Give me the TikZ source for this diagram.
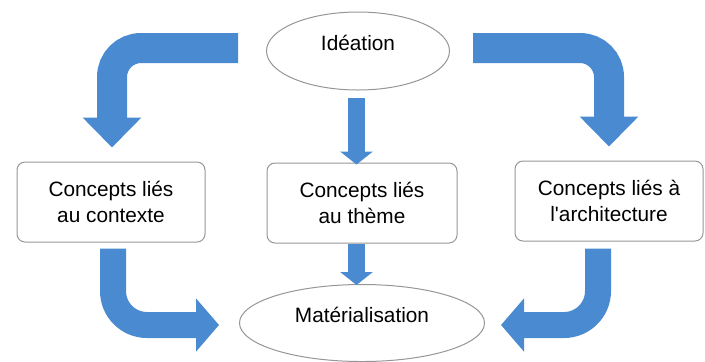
\documentclass[tikz,border=0pt]{standalone}
\usepackage{fontspec}
\setmainfont{Liberation Sans}
\usetikzlibrary{arrows.meta,shapes.geometric}
\definecolor{flowblue}{RGB}{74,138,208}
\definecolor{edgegray}{RGB}{150,150,150}
\begin{document}
\begin{tikzpicture}[x=0.5pt, y=-0.5pt,
    every node/.style={font=\fontsize{10.4pt}{13pt}\selectfont},
    stage/.style={ellipse, draw=edgegray, line width=0.5pt, fill=white},
    conceptbox/.style={draw=edgegray, line width=0.5pt, rounded corners=4pt, align=center,
        minimum width=94pt, minimum height=40pt},
    bentarrow/.style={draw=flowblue, line width=15pt, rounded corners=14.5pt,
        -{Triangle[width=28.5pt, length=15pt]}},
    lowarrow/.style={draw=flowblue, line width=13pt, rounded corners=17pt,
        -{Triangle[width=26pt, length=11.5pt]}},
    straightarrow/.style={draw=flowblue, line width=8.5pt,
        -{Triangle[width=16pt, length=6.5pt]}}]
    \useasboundingbox (0,0) rectangle (705,361);

    % etapes
    \node[stage, minimum width=91.5pt, minimum height=39pt] (idea) at (358,51) {};
    \node (ideatext) at (358,43) {Idéation};
    \node[stage, minimum width=122.5pt, minimum height=38.5pt] (mat) at (362,323) {};
    \node (mattext) at (362,315) {Matérialisation};

    % concepts
    \node[conceptbox] (ctx) at (111,202) {Concepts liés\\au contexte};
    \node[conceptbox, minimum width=95pt] (theme) at (362,203) {Concepts liés\\au thème};
    \node[conceptbox] (archi) at (609,201) {Concepts liés à\\l\textquotesingle architecture};

    % fleches du haut
    \draw[bentarrow] ([xshift=-14pt, yshift=1.5pt]idea.west) -| ([xshift=0.5pt, yshift=7pt]ctx.north);
    \draw[bentarrow] ([xshift=11.6pt, yshift=1.5pt]idea.east) -| ([yshift=7pt]archi.north);
    \draw[straightarrow] ([xshift=-0.75pt, yshift=-3.75pt]idea.south) -- ([xshift=-2.75pt, yshift=-1pt]theme.north);

    % fleches du bas
    \draw[lowarrow] ([xshift=1pt, yshift=-3pt]ctx.south) |- ([xshift=-10pt, yshift=-1pt]mat.west);
    \draw[lowarrow] ([xshift=-5.5pt, yshift=-3.5pt]archi.south) |- ([xshift=8pt, yshift=-1pt]mat.east);
    \draw[straightarrow] ([xshift=-2.75pt]theme.south) -- ([xshift=-2.75pt, yshift=-0.5pt]mat.north);
\end{tikzpicture}
\end{document}
